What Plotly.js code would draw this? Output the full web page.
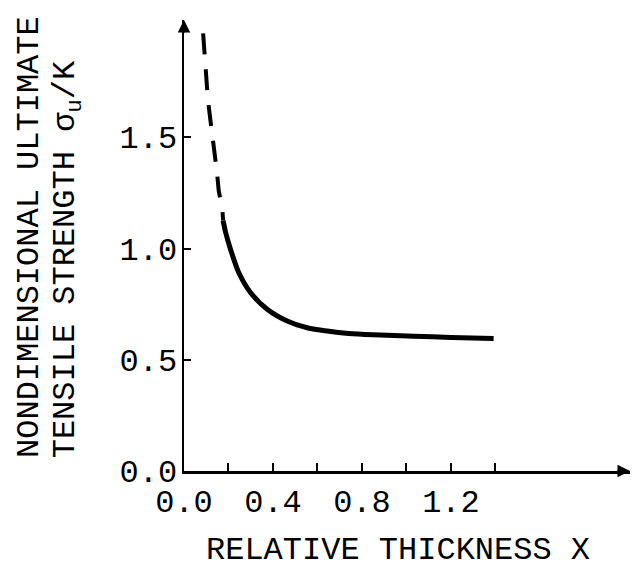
<!DOCTYPE html>
<html>
<head>
<meta charset="utf-8">
<script src="https://cdn.plot.ly/plotly-3.0.1.min.js"></script>
<style>
  html, body { margin: 0; padding: 0; background: #fff; }
  #chart { width: 632px; height: 569px; }
</style>
</head>
<body>
<div id="chart"></div>
<script>
// Dashed (extrapolated) part of the curve
const dashX = [0.086, 0.097, 0.107, 0.116, 0.127, 0.134, 0.149, 0.156, 0.172, 0.176];
const dashY = [1.967, 1.802, 1.674, 1.599, 1.517, 1.434, 1.336, 1.260, 1.178, 1.125];
// Solid (measured) part of the curve
const solidX = [0.176, 0.187, 0.209, 0.246, 0.299, 0.374, 0.464, 0.554, 0.644, 0.741, 0.850, 1.033, 1.200, 1.392];
const solidY = [1.125, 1.073, 0.997, 0.892, 0.802, 0.727, 0.674, 0.644, 0.629, 0.618, 0.612, 0.606, 0.600, 0.595];

const xTickVals = [0, 0.2, 0.4, 0.6, 0.8, 1.0, 1.2, 1.4];
const xTickText = ['0.0', '', '0.4', '', '0.8', '', '1.2', ''];
const yTickVals = [0, 0.5, 1.0, 1.5];
const yTickText = ['0.0', '0.5', '1.0', '1.5'];

const xTitle = 'RELATIVE THICKNESS X';
const yTitleLine1 = 'NONDIMENSIONAL ULTIMATE';
const yTitleLine2 = 'TENSILE STRENGTH σ<sub>u</sub>/K';

const FONT = '"Liberation Mono", "Courier New", monospace';
const FS = 32;

const traces = [
  {
    x: dashX, y: dashY, type: 'scatter', mode: 'lines',
    line: { color: '#000', width: 4, dash: '21px,15px', shape: 'linear' },
    hoverinfo: 'skip', showlegend: false
  },
  {
    x: solidX, y: solidY, type: 'scatter', mode: 'lines',
    line: { color: '#000', width: 5, shape: 'spline', smoothing: 0.8 },
    hoverinfo: 'skip', showlegend: false
  }
];

const layout = {
  width: 632, height: 569,
  margin: { l: 184, r: 2, t: 20, b: 98 },
  paper_bgcolor: '#fff', plot_bgcolor: '#fff',
  showlegend: false,
  font: { family: FONT, color: '#000', size: FS },
  xaxis: {
    range: [0, 2.005], showgrid: false, zeroline: false,
    showline: true, linecolor: '#000', linewidth: 2.5,
    ticks: 'inside', ticklen: 8, tickwidth: 2, tickcolor: '#000',
    tickvals: xTickVals, ticktext: xTickText,
    tickfont: { family: FONT, size: FS, color: '#000' },
    ticklabelstandoff: 0,
    fixedrange: true
  },
  yaxis: {
    range: [0, 2.027], showgrid: false, zeroline: false,
    showline: true, linecolor: '#000', linewidth: 2.5,
    ticks: 'inside', ticklen: 7, tickwidth: 2, tickcolor: '#000',
    tickvals: yTickVals, ticktext: yTickText,
    tickfont: { family: FONT, size: FS, color: '#000' },
    ticklabelstandoff: -2,
    fixedrange: true
  },
  annotations: [
    { xref: 'x', yref: 'y', x: 2.005, y: 0, ax: -14, ay: 0, text: '',
      showarrow: true, arrowhead: 2, arrowsize: 1, arrowwidth: 2.5, arrowcolor: '#000' },
    { xref: 'x', yref: 'y', x: 0, y: 2.027, ax: 0, ay: 14, text: '',
      showarrow: true, arrowhead: 2, arrowsize: 1, arrowwidth: 2.5, arrowcolor: '#000' },
    { xref: 'paper', yref: 'paper', x: 0.48, y: -0.177, xanchor: 'center', yanchor: 'middle',
      text: xTitle, showarrow: false,
      font: { family: FONT, size: FS, color: '#000' } },
    { xref: 'paper', yref: 'paper', x: -0.348, y: 0.024, xanchor: 'center', yanchor: 'bottom',
      text: yTitleLine1, textangle: -90, showarrow: false,
      font: { family: FONT, size: FS, color: '#000' } },
    { xref: 'paper', yref: 'paper', x: -0.262, y: 0.024, xanchor: 'center', yanchor: 'bottom',
      text: yTitleLine2, textangle: -90, showarrow: false,
      font: { family: FONT, size: FS, color: '#000' } }
  ]
};

Plotly.newPlot('chart', traces, layout, { staticPlot: true, displayModeBar: false });
</script>
</body>
</html>
